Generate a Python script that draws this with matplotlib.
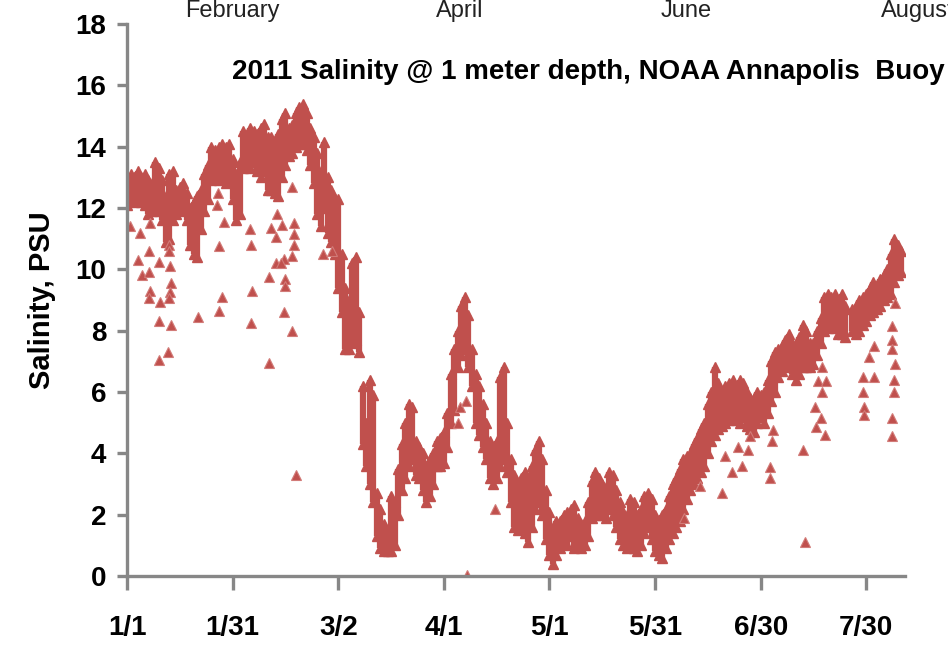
import numpy as np
import matplotlib
matplotlib.use("Agg")
import matplotlib.pyplot as plt

# daily low / high salinity (PSU), day 0 = Jan 1 2011
low = [12.1, 12.3, 12.2, 12.3, 12.2, 12.1, 11.8, 11.9, 12.0, 11.9,
       11.6, 10.9, 11.0, 11.6, 11.8, 11.9, 12.0, 11.6, 10.8, 10.5,
       10.4, 11.3, 11.9, 12.3, 12.9, 13.0, 12.9, 13.0, 12.8, 12.9,
       12.3, 11.6, 11.8, 13.3, 13.4, 13.3, 13.5, 13.2, 13.0, 13.2,
       12.6, 12.6, 12.5, 12.4, 13.0, 13.4, 13.7, 13.8, 14.0, 14.1,
       14.1, 13.9, 13.4, 12.8, 11.8, 11.4, 12.0, 11.2, 10.9, 10.5,
       9.4, 8.6, 7.4, 7.4, 7.6, 7.7, 7.3, 4.3, 3.6, 3.0,
       2.4, 1.3, 0.9, 0.8, 0.8, 0.8, 1.0, 2.0, 2.8, 3.2,
       3.6, 3.8, 3.3, 3.2, 2.8, 2.4, 2.6, 3.0, 3.6, 3.6,
       3.7, 4.2, 5.0, 5.4, 6.8, 7.2, 7.4, 6.8, 6.2, 5.0,
       4.6, 4.2, 3.8, 3.2, 3.0, 3.2, 3.6, 3.8, 3.4, 2.4,
       1.6, 1.5, 1.6, 1.4, 1.1, 1.6, 2.2, 2.4, 2.0, 1.2,
       0.7, 0.4, 0.7, 0.9, 1.1, 1.0, 1.3, 0.9, 1.0, 0.9,
       1.0, 1.3, 1.9, 2.1, 2.0, 2.0, 1.9, 2.2, 2.0, 1.6,
       1.2, 1.0, 0.9, 1.0, 0.9, 0.8, 1.0, 1.4, 1.6, 1.2,
       0.8, 0.7, 0.6, 0.9, 1.2, 1.4, 1.6, 1.8, 2.2, 2.5,
       2.8, 3.0, 3.2, 3.4, 3.6, 4.0, 4.4, 4.6, 4.8, 4.9,
       5.0, 5.1, 5.2, 5.1, 5.0, 5.2, 4.9, 4.8, 4.7, 5.0,
       5.2, 5.0, 5.3, 5.7, 6.0, 6.5, 6.7, 6.8, 6.9, 6.6,
       6.4, 6.6, 6.8, 6.8, 6.8, 6.9, 7.2, 7.6, 8.0, 8.1,
       8.2, 8.1, 7.9, 7.9, 7.8, np.nan, 8.0, 7.9, 8.0, 8.2,
       8.3, 8.5, 8.6, 8.7, 8.8, 9.0, 9.1, 9.2, 9.6, 9.8, 9.9]
high = [13.0, 13.1, 13.0, 13.2, 13.0, 13.1, 12.9, 12.8, 13.5, 13.3,
        12.9, 12.4, 13.1, 13.2, 12.6, 12.7, 12.8, 12.5, 12.0, 12.2,
        12.4, 12.6, 13.1, 13.4, 14.0, 13.9, 14.0, 14.1, 14.0, 14.1,
        13.6, 13.1, 13.5, 14.5, 14.4, 14.6, 14.5, 14.4, 14.6, 14.75,
        14.3, 14.3, 14.2, 14.4, 14.9, 15.1, 14.6, 14.7, 15.1, 15.3,
        15.4, 15.1, 14.6, 14.3, 13.8, 13.2, 14.15, 13.0, 12.6, 12.3,
        12.3, 10.5, 9.4, 9.0, 10.2, 10.4, 8.6, 6.2, 5.0, 6.4,
        5.9, 2.7, 2.2, 1.7, 1.5, 2.6, 2.4, 3.5, 4.3, 5.0,
        5.6, 5.5, 4.4, 4.2, 4.0, 3.6, 3.8, 4.0, 4.4, 4.5,
        4.7, 5.3, 6.6, 7.4, 8.0, 8.8, 9.1, 8.5, 7.4, 6.6,
        6.2, 5.6, 5.0, 4.4, 4.2, 4.4, 6.5, 6.8, 5.0, 3.8,
        3.3, 3.0, 3.2, 3.4, 3.2, 3.6, 4.1, 4.4, 3.8, 2.8,
        2.1, 1.5, 1.8, 1.8, 2.0, 2.1, 2.2, 2.3, 1.9, 1.7,
        1.8, 2.4, 3.1, 3.4, 3.2, 3.0, 2.9, 3.4, 3.3, 2.8,
        2.4, 2.1, 2.0, 2.5, 2.4, 2.0, 2.2, 2.6, 2.7, 2.5,
        2.0, 1.8, 2.0, 2.2, 2.6, 3.0, 3.2, 3.5, 3.8, 3.9,
        4.0, 4.3, 4.5, 4.8, 5.0, 5.6, 6.0, 6.8, 6.3, 6.0,
        6.2, 6.3, 6.4, 6.2, 6.4, 6.3, 6.0, 5.8, 5.8, 6.0,
        5.9, 6.0, 6.4, 7.0, 7.3, 7.4, 7.5, 7.7, 7.9, 7.6,
        7.5, 7.8, 8.2, 8.0, 7.6, 7.6, 8.0, 8.4, 9.1, 9.2,
        9.1, 9.2, 9.0, 9.2, 8.8, np.nan, 8.7, 8.8, 9.0, 9.1,
        9.2, 9.4, 9.6, 9.5, 9.7, 9.8, 10.0, 10.5, 11.0, 10.8, 10.6]

# isolated low readings (day, PSU)
out_day = [0.9, 3.7, 3.2, 4.2, 6.3, 6.5, 6.3, 6.5, 6.3, 9.2, 9.4, 9.2, 9.2,
           12.0, 12.0, 12.2, 12.4, 12.2, 12.0, 12.4, 11.7, 20.3, 26.2, 26.2,
           26.9, 27.6, 25.9, 25.5, 34.9, 35.1, 35.4, 35.1,
           42.5, 40.9, 42.2, 44.1, 47.3, 47.3, 47.3, 47.0, 44.7, 42.2, 43.8,
           40.2, 44.9, 44.9, 44.7, 46.8, 40.2, 47.0, 47.9, 55.8, 58.3,
           96.7, 94.1, 94.6, 96.3, 104.5,
           158.1, 162.8, 168.9, 169.9, 171.8, 173.7, 174.6, 176.5, 177.0,
           182.7, 182.7, 183.1, 183.6,
           192.1, 192.6, 195.5, 195.7, 197.0, 198.3, 196.4, 198.5, 197.3,
           197.5, 209.2, 209.2, 209.4, 209.4, 210.8, 212.2, 212.2, 217.2,
           217.2, 217.2, 218.2, 218.0, 218.0, 217.2, 217.2, 218.2]
out_val = [11.4, 11.2, 10.3, 9.8, 10.6, 11.5, 9.9, 9.3, 9.05, 10.25, 8.95, 8.3, 7.05,
           10.8, 10.6, 10.1, 9.55, 9.25, 9.05, 8.2, 7.3, 8.45, 10.75, 8.65,
           9.1, 11.55, 12.5, 12.1, 11.3, 10.8, 9.3, 8.25,
           11.8, 11.35, 11.05, 11.45, 11.5, 11.15, 10.8, 10.45, 10.35, 10.2, 10.2,
           9.75, 9.7, 9.45, 8.6, 8.0, 6.95, 12.7, 3.3, 10.5, 10.6,
           0.03, 5.0, 5.5, 5.7, 2.2,
           1.9, 2.95, 2.7, 3.9, 3.4, 4.2, 3.6, 4.1, 4.55,
           3.55, 3.2, 4.4, 4.75,
           4.1, 1.12, 5.5, 4.85, 5.15, 4.6, 6.35, 6.35, 6.0,
           6.8, 6.0, 6.5, 5.5, 5.25, 7.15, 7.5, 6.5, 8.15,
           7.7, 7.4, 6.9, 6.4, 6.0, 5.15, 4.55, 8.9]

tick_days = [0, 30, 60, 90, 120, 150, 180, 210]
tick_labels = ['1/1', '1/31', '3/2', '4/1', '5/1', '5/31', '6/30', '7/30']
months = ['February', 'April', 'June', 'August']
month_x = [232, 460, 686, 918]

red = '#C0504D'
grey = '#878787'
plt.rcParams['font.family'] = ['Liberation Sans', 'DejaVu Sans']

days = np.arange(len(low))

fig = plt.figure(figsize=(9.48, 6.45), dpi=100)
ax = fig.add_axes([127 / 948, 1 - 576 / 645, (905 - 127) / 948, (576 - 24) / 645])

ax.vlines(days, low, high, color=red, lw=4.5)
ax.plot(days, high, '^', color=red, ms=7.5, mec=red)
ax.plot(days, low, '^', color=red, ms=7.5, mec=red)
ax.plot(out_day, out_val, '^', color=red, ms=7.5, mec='#D27B78', mew=0.8, ls='none')

ax.set_xlim(0, 221)
ax.set_ylim(0, 18)
ax.set_yticks(range(0, 19, 2))
ax.set_xticks(tick_days)
ax.set_xticklabels(tick_labels)

for s in ['top', 'right']:
    ax.spines[s].set_visible(False)
for s in ['left', 'bottom']:
    ax.spines[s].set_color(grey)
    ax.spines[s].set_linewidth(2.4)
ax.tick_params(axis='both', color=grey, width=2.4, labelsize=20)
ax.tick_params(axis='y', length=7, pad=8)
ax.tick_params(axis='x', length=10, pad=18)
for lab in ax.get_xticklabels() + ax.get_yticklabels():
    lab.set_fontweight('bold')

ax.set_ylabel('Salinity, PSU', fontsize=21, fontweight='bold', labelpad=14)

fig.text(945 / 948, 1 - 72 / 645, '2011 Salinity @ 1 meter depth, NOAA Annapolis  Buoy',
         ha='right', va='center', fontsize=20, fontweight='bold')

# month names along the top edge, clipped as in the original
for m, mx in zip(months, month_x):
    fig.text(mx / 948, 1 - 17 / 645, m, ha='center', va='baseline', fontsize=17,
             color='#222222')

fig.savefig('out.png', dpi=100)
